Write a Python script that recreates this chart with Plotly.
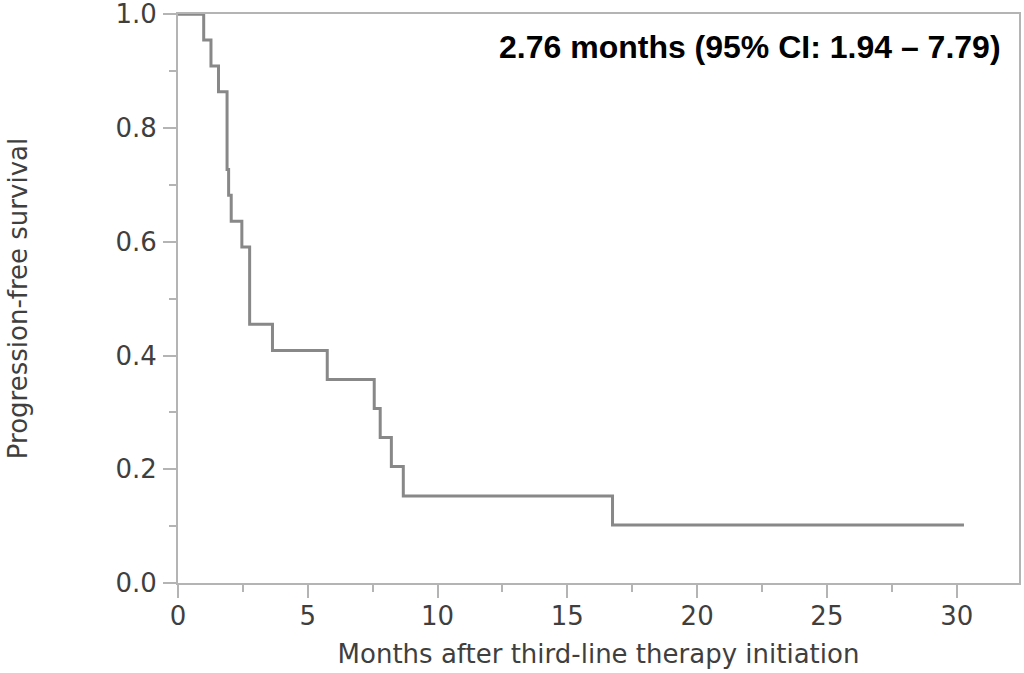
import plotly.graph_objects as go

# Kaplan-Meier step curve
months = [0, 0.99, 1.27, 1.56, 1.89, 1.95, 2.05, 2.46, 2.76, 3.64, 5.75, 7.56, 7.79, 8.22, 8.68, 16.74, 30.28]
pfs = [1.0, 0.955, 0.909, 0.864, 0.727, 0.682, 0.636, 0.591, 0.455, 0.409, 0.358, 0.307, 0.256, 0.205, 0.153, 0.102, 0.102]

x_ticks = [0, 5, 10, 15, 20, 25, 30]
y_ticks = [0.0, 0.2, 0.4, 0.6, 0.8, 1.0]
y_tick_text = ["0.0", "0.2", "0.4", "0.6", "0.8", "1.0"]

median_text = "2.76 months (95% CI: 1.94 – 7.79)"
x_title = "Months after third-line therapy initiation"
y_title = "Progression-free survival"

axis_font = dict(family="DejaVu Sans", size=26, color="#3f3f3f")
line_col = "#b4b4b4"

fig = go.Figure()
fig.add_trace(go.Scatter(
    x=months, y=pfs, mode="lines",
    line=dict(shape="hv", color="#888888", width=3),
    showlegend=False, hoverinfo="x+y",
))

fig.update_layout(
    width=1024, height=673,
    margin=dict(l=178, r=5, t=14, b=90),
    paper_bgcolor="white", plot_bgcolor="white",
    font=axis_font,
    xaxis=dict(
        range=[0, 32.4], tickvals=x_ticks, ticktext=[str(v) for v in x_ticks],
        ticks="outside", ticklen=13, tickwidth=2, tickcolor=line_col,
        minor=dict(dtick=2.5, tick0=0, ticks="outside", ticklen=7, tickwidth=2, tickcolor=line_col),
        showline=True, linecolor=line_col, linewidth=2, mirror=True,
        showgrid=False, zeroline=False, automargin=False,
        ticklabeloverflow="allow", ticklabelstandoff=-4,
        tickfont=axis_font,
        title=dict(text=x_title, font=axis_font, standoff=15),
    ),
    yaxis=dict(
        range=[0, 1.0005], tickvals=y_ticks, ticktext=y_tick_text,
        ticks="outside", ticklen=13, tickwidth=2, tickcolor=line_col,
        minor=dict(dtick=0.1, tick0=0, ticks="outside", ticklen=7, tickwidth=2, tickcolor=line_col),
        showline=True, linecolor=line_col, linewidth=2, mirror=True,
        showgrid=False, zeroline=False, automargin=False,
        ticklabeloverflow="allow", ticklabelstandoff=1,
        tickfont=axis_font,
        title=dict(text=y_title, font=axis_font, standoff=80),
    ),
    annotations=[dict(
        text="<b>" + median_text + "</b>",
        xref="paper", yref="paper", x=0.981, y=0.942,
        xanchor="right", yanchor="middle", showarrow=False,
        font=dict(family="Liberation Sans, Arial", size=32, color="black"),
    )],
)

fig.write_html(
    "out.html",
    config={"displayModeBar": False},
    post_script="document.body.style.margin='0';document.body.style.overflow='hidden';",
)
